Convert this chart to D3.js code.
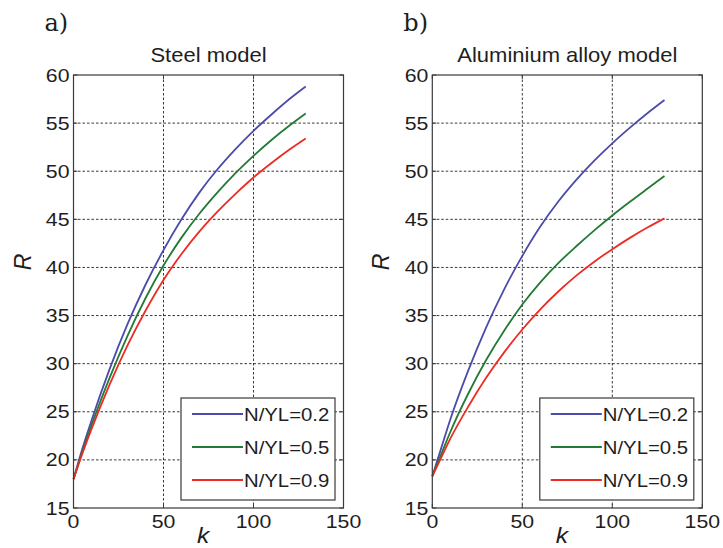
<!DOCTYPE html>
<html>
<head>
<meta charset="utf-8">
<script src="https://cdn.jsdelivr.net/npm/d3@7"></script>
<style>
  body { margin: 0; background: #fff; }
  svg { display: block; }
</style>
</head>
<body>
<div id="chart"></div>
<script>
const width = 723;
const height = 548;

// k values (x axis) shared by every curve
const kValues = [0, 5, 10, 20, 30, 40, 50, 60, 70, 80, 90, 100, 110, 120, 129];

// R values, steel model
const steel02 = [18.0, 21.2, 24.1, 29.4, 34.1, 38.2, 41.8, 45.0, 47.8, 50.2, 52.3, 54.2, 55.9, 57.5, 58.8];
const steel05 = [18.0, 20.9, 23.6, 28.5, 32.9, 36.8, 40.2, 43.1, 45.6, 47.8, 49.8, 51.6, 53.25, 54.75, 56.0];
const steel09 = [18.0, 20.7, 23.2, 27.8, 31.9, 35.5, 38.7, 41.4, 43.75, 45.8, 47.65, 49.35, 50.85, 52.25, 53.4];

// R values, aluminium alloy model
const alu02 = [18.3, 21.25, 24.2, 29.3, 33.8, 37.75, 41.2, 44.25, 46.85, 49.1, 51.1, 52.9, 54.55, 56.1, 57.4];
const alu05 = [18.3, 20.6, 22.9, 26.9, 30.4, 33.45, 36.15, 38.45, 40.45, 42.2, 43.85, 45.4, 46.85, 48.25, 49.5];
const alu09 = [18.3, 20.25, 22.2, 25.55, 28.55, 31.2, 33.55, 35.65, 37.5, 39.15, 40.6, 41.9, 43.1, 44.2, 45.1];

const seriesNames = ["N/YL=0.2", "N/YL=0.5", "N/YL=0.9"];
const xTicks = [0, 50, 100, 150];
const yTicks = [15, 20, 25, 30, 35, 40, 45, 50, 55, 60];

const lineColours = ["#4b4bab", "#237a35", "#ec2c24"];
const axisCol = "#3a3a3a";
const textCol = "#1e1e1e";
const fontFam = "'Liberation Sans', Arial, sans-serif";
const stretch = 1.12;   // the reference text is a little wide

const panels = [
  {letter: "a)", title: "Steel model", left: 73.5, series: [steel02, steel05, steel09]},
  {letter: "b)", title: "Aluminium alloy model", left: 432.3, series: [alu02, alu05, alu09]}
];
const plotW = 270;
const plotTop = 75;
const plotBottom = 508;

const svg = d3.select("#chart").append("svg")
  .attr("width", width)
  .attr("height", height)
  .style("background-color", "#ffffff");

// stretched text helper
function label(g, x, y, txt, size, anchor, opts = {}) {
  return g.append("text")
    .attr("transform", `translate(${x},${y}) ${opts.rotate ? "rotate(-90)" : ""} scale(${opts.sx || stretch},1)`)
    .attr("text-anchor", anchor)
    .style("font-family", opts.family || fontFam)
    .style("font-size", size + "px")
    .style("font-style", opts.italic ? "italic" : "normal")
    .style("fill", textCol)
    .text(txt);
}

function drawPanel(p) {
  const g = svg.append("g");

  const x = d3.scaleLinear().domain([0, 150]).range([p.left, p.left + plotW]);
  const y = d3.scaleLinear().domain([15, 60]).range([plotBottom, plotTop]);

  // grid (inner ticks only)
  g.selectAll(".gx").data(xTicks.slice(1, -1)).join("line")
    .attr("x1", d => x(d)).attr("x2", d => x(d))
    .attr("y1", plotTop).attr("y2", plotBottom)
    .attr("stroke", "#222").attr("stroke-width", 0.9)
    .attr("stroke-dasharray", "2.5 2");
  g.selectAll(".gy").data(yTicks.slice(1, -1)).join("line")
    .attr("x1", p.left).attr("x2", p.left + plotW)
    .attr("y1", d => y(d)).attr("y2", d => y(d))
    .attr("stroke", "#222").attr("stroke-width", 0.9)
    .attr("stroke-dasharray", "2.5 2");

  // curves
  const line = d3.line()
    .x((d, i) => x(kValues[i]))
    .y(d => y(d))
    .curve(d3.curveMonotoneX);
  p.series.forEach((s, i) => {
    g.append("path")
      .datum(s)
      .attr("d", line)
      .attr("fill", "none")
      .attr("stroke", lineColours[i])
      .attr("stroke-width", 1.8);
  });

  // frame and inward ticks, matlab style
  g.append("rect")
    .attr("x", p.left).attr("y", plotTop)
    .attr("width", plotW).attr("height", plotBottom - plotTop)
    .attr("fill", "none").attr("stroke", axisCol).attr("stroke-width", 1.2);
  const tl = 4;
  xTicks.forEach(t => {
    g.append("line").attr("x1", x(t)).attr("x2", x(t)).attr("y1", plotBottom).attr("y2", plotBottom - tl).attr("stroke", axisCol);
    g.append("line").attr("x1", x(t)).attr("x2", x(t)).attr("y1", plotTop).attr("y2", plotTop + tl).attr("stroke", axisCol);
  });
  yTicks.forEach(t => {
    g.append("line").attr("x1", p.left).attr("x2", p.left + tl).attr("y1", y(t)).attr("y2", y(t)).attr("stroke", axisCol);
    g.append("line").attr("x1", p.left + plotW).attr("x2", p.left + plotW - tl).attr("y1", y(t)).attr("y2", y(t)).attr("stroke", axisCol);
  });

  // tick labels
  xTicks.forEach(t => label(g, x(t), 528, t, 19, "middle"));
  yTicks.forEach(t => label(g, p.left - 4, y(t) + 6.5, t, 19, "end"));

  // axis titles
  label(g, x(72), 543, "k", 22, "middle", {italic: true});
  label(g, p.left - 43, 262, "R", 23, "middle", {italic: true, rotate: true, sx: 1});

  // panel title and letter
  label(g, p.left + plotW / 2, 62, p.title, 20, "middle", {sx: 1.1});
  label(g, p.left - 29, 31, p.letter, 24, "start", {family: "'DejaVu Serif', serif", sx: 1});

  // legend
  const lx = p.left + 107.5, ly = 398, lw = 154, lh = 102;
  const leg = g.append("g");
  leg.append("rect")
    .attr("x", lx).attr("y", ly).attr("width", lw).attr("height", lh)
    .attr("fill", "#ffffff").attr("stroke", axisCol).attr("stroke-width", 1.2);
  seriesNames.forEach((name, i) => {
    const yy = ly + 16 + i * 33;
    leg.append("line")
      .attr("x1", lx + 11).attr("x2", lx + 62)
      .attr("y1", yy).attr("y2", yy)
      .attr("stroke", lineColours[i]).attr("stroke-width", 2);
    label(leg, lx + 63, yy + 6.5, name, 18, "start", {sx: 1.13});
  });
}

panels.forEach(drawPanel);
</script>
</body>
</html>
